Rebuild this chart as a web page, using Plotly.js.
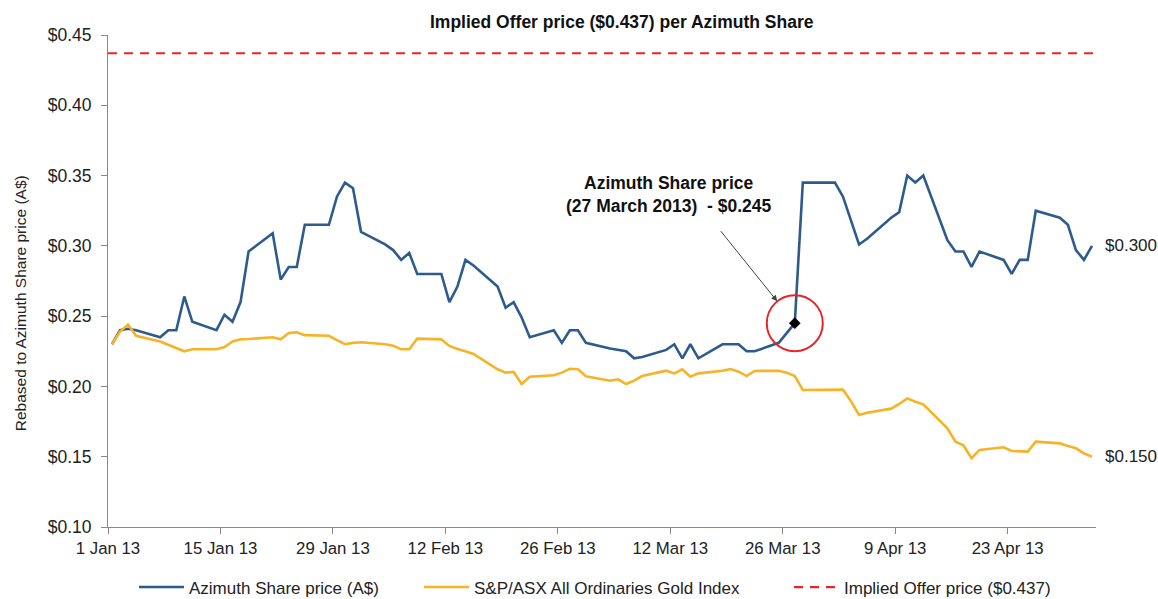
<!DOCTYPE html>
<html>
<head>
<meta charset="utf-8">
<script src="https://cdn.plot.ly/plotly-3.0.1.min.js"></script>
<style>html,body{margin:0;padding:0;background:#fff;}#chart{width:1158px;height:599px;}</style>
</head>
<body>
<div id="chart"></div>
<script>
// ---- data ----
const dates = [
 '2013-01-01','2013-01-02','2013-01-03','2013-01-04',
 '2013-01-07','2013-01-08','2013-01-09','2013-01-10','2013-01-11',
 '2013-01-14','2013-01-15','2013-01-16','2013-01-17','2013-01-18',
 '2013-01-21','2013-01-22','2013-01-23','2013-01-24','2013-01-25',
 '2013-01-28','2013-01-29','2013-01-30','2013-01-31','2013-02-01',
 '2013-02-04','2013-02-05','2013-02-06','2013-02-07','2013-02-08',
 '2013-02-11','2013-02-12','2013-02-13','2013-02-14','2013-02-15',
 '2013-02-18','2013-02-19','2013-02-20','2013-02-21','2013-02-22',
 '2013-02-25','2013-02-26','2013-02-27','2013-02-28','2013-03-01',
 '2013-03-04','2013-03-05','2013-03-06','2013-03-07','2013-03-08',
 '2013-03-11','2013-03-12','2013-03-13','2013-03-14','2013-03-15',
 '2013-03-18','2013-03-19','2013-03-20','2013-03-21','2013-03-22',
 '2013-03-25','2013-03-26','2013-03-27','2013-03-28','2013-03-29',
 '2013-04-01','2013-04-02','2013-04-03','2013-04-04','2013-04-05',
 '2013-04-08','2013-04-09','2013-04-10','2013-04-11','2013-04-12',
 '2013-04-15','2013-04-16','2013-04-17','2013-04-18','2013-04-19',
 '2013-04-22','2013-04-23','2013-04-24','2013-04-25','2013-04-26',
 '2013-04-29','2013-04-30','2013-05-01','2013-05-02','2013-05-03'
];
const azimuthPrice = [
 0.230,0.240,0.241,0.240,
 0.235,0.240,0.240,0.264,0.246,
 0.240,0.251,0.246,0.260,0.296,
 0.309,0.276,0.285,0.285,0.315,
 0.315,0.335,0.345,0.341,0.310,
 0.301,0.297,0.290,0.295,0.280,
 0.280,0.260,0.271,0.290,0.286,
 0.271,0.256,0.260,0.249,0.235,
 0.240,0.231,0.240,0.240,0.231,
 0.227,0.226,0.225,0.220,0.221,
 0.226,0.230,0.220,0.230,0.220,
 0.230,0.230,0.230,0.225,0.225,
 0.231,0.238,0.245,0.345,0.345,
 0.345,0.335,0.318,0.301,0.305,
 0.320,0.324,0.350,0.345,0.350,
 0.304,0.296,0.296,0.285,0.296,
 0.290,0.280,0.290,0.290,0.325,
 0.320,0.315,0.297,0.290,0.300
];
const goldIndex = [
 0.230,0.239,0.244,0.236,
 0.232,0.2295,0.227,0.225,0.2265,
 0.2265,0.228,0.232,0.2335,0.2337,
 0.235,0.2335,0.238,0.2385,0.2365,
 0.236,0.233,0.230,0.231,0.2314,
 0.230,0.229,0.2264,0.2264,0.234,
 0.2335,0.2288,0.2266,0.225,0.2231,
 0.2122,0.2098,0.2103,0.2017,0.2069,
 0.2079,0.2098,0.2126,0.2122,0.2072,
 0.2041,0.2051,0.2017,0.2041,0.2074,
 0.2112,0.2093,0.2122,0.2069,0.2093,
 0.2112,0.2124,0.2105,0.2074,0.2110,
 0.2112,0.2098,0.2074,0.1975,0.1975,
 0.1975,0.1977,0.1894,0.1797,0.1813,
 0.1842,0.1875,0.1915,0.1891,0.1873,
 0.1702,0.1607,0.1581,0.1489,0.1548,
 0.1567,0.1541,0.1538,0.1536,0.1607,
 0.1595,0.1576,0.1560,0.1524,0.150
];
const offerPrice = 0.437;
const highlightDate = '2013-03-27';
const xTickVals = ['2013-01-01','2013-01-15','2013-01-29','2013-02-12','2013-02-26','2013-03-12','2013-03-26','2013-04-09','2013-04-23'];
const xRange = ['2013-01-01','2013-05-04'];
const seriesNames = ['Azimuth Share price (A$)','S&P/ASX All Ordinaries Gold Index','Implied Offer price ($0.437)'];

// ---- styling ----
const FONT = 'Liberation Sans, Arial, sans-serif';
const BLUE = '#2e5b8e', YELLOW = '#f6b326', RED = '#e8262a';
const DAY = 86400000;
const hi = dates.indexOf(highlightDate);
const lastIdx = dates.length - 1;

const traces = [
  {x: dates, y: azimuthPrice, type:'scatter', mode:'lines', name: seriesNames[0], legend:'legend',
   line:{color:BLUE, width:2.6}, xperiod: DAY, xperiodalignment:'middle'},
  {x: dates, y: goldIndex, type:'scatter', mode:'lines', name: seriesNames[1], legend:'legend2',
   line:{color:YELLOW, width:2.6}, xperiod: DAY, xperiodalignment:'middle'},
  {x: xRange, y: [offerPrice, offerPrice], type:'scatter', mode:'lines', name: seriesNames[2], legend:'legend3',
   line:{color:RED, width:2.2, dash:'9px,7px'}},
  {x: [dates[hi]], y: [azimuthPrice[hi]], type:'scatter', mode:'markers', showlegend:false,
   marker:{symbol:'diamond', size:9, color:'#000'}, xperiod: DAY, xperiodalignment:'middle'}
];

function leg(xpx) {
  return {orientation:'h', x:(xpx - 108) / 988, xanchor:'left', y:-0.123, yanchor:'middle',
          font:{family:FONT, size:17, color:'#222'}, itemwidth:45, bgcolor:'rgba(0,0,0,0)', borderwidth:0};
}

const layout = {
  width:1158, height:599,
  margin:{l:108, r:62, t:35, b:72, autoexpand:false},
  paper_bgcolor:'#fff', plot_bgcolor:'#fff',
  font:{family:FONT, size:17, color:'#222'},
  showlegend:true,
  legend: leg(134),
  legend2: leg(419),
  legend3: leg(789),
  xaxis:{type:'date', range:xRange, tickvals:xTickVals, tickformat:'%-d %b %y',
         ticks:'outside', ticklen:6, tickcolor:'#888', showline:true, linecolor:'#888', linewidth:1,
         showgrid:false, zeroline:false, tickfont:{family:FONT, size:16.8, color:'#222'}},
  yaxis:{range:[0.10,0.45], dtick:0.05, tick0:0.10, tickformat:'$.2f',
         ticks:'outside', ticklen:6, tickcolor:'#888', showline:true, linecolor:'#888', linewidth:1,
         ticklabelstandoff:6,
         showgrid:false, zeroline:false, tickfont:{family:FONT, size:17.5, color:'#222'}},
  shapes:[
    {type:'circle', xref:'x', yref:'y', xsizemode:'pixel', ysizemode:'pixel',
     xanchor: dates[hi] + ' 12:00', yanchor: azimuthPrice[hi],
     x0:-28, x1:28, y0:-28, y1:28, line:{color:RED, width:2}}
  ],
  annotations:[
    {text:'<b>Implied Offer price ($0.437) per Azimuth Share</b>', xref:'paper', yref:'paper',
     x:0.52, y:1.026, xanchor:'center', yanchor:'middle', showarrow:false,
     font:{family:FONT, size:17.5, color:'#111'}},
    {text:'Rebased to Azimuth Share price (A$)', xref:'paper', yref:'paper',
     x:-0.089, y:0.455, textangle:-90, xanchor:'center', yanchor:'middle', showarrow:false,
     font:{family:FONT, size:15.5, color:'#222'}},
    {text:'<b>Azimuth Share price<br>(27 March 2013)  - $' + azimuthPrice[hi].toFixed(3) + '</b>',
     xref:'paper', yref:'paper', x:0.568, y:0.675, xanchor:'center', yanchor:'middle', showarrow:false,
     font:{family:FONT, size:17.5, color:'#111'}},
    {text:' ', xref:'x', yref:'y', x: dates[hi] + ' 12:00', y: azimuthPrice[hi],
     showarrow:true, ax:-78, ay:-97, axref:'pixel', ayref:'pixel', standoff:28,
     arrowhead:2, arrowsize:1.2, arrowwidth:1, arrowcolor:'#444'},
    {text:'$' + azimuthPrice[lastIdx].toFixed(3), xref:'x', yref:'y', x: dates[lastIdx], y: azimuthPrice[lastIdx],
     xanchor:'left', yanchor:'middle', xshift:15, showarrow:false, font:{family:FONT, size:17, color:'#222'}},
    {text:'$' + goldIndex[lastIdx].toFixed(3), xref:'x', yref:'y', x: dates[lastIdx], y: goldIndex[lastIdx],
     xanchor:'left', yanchor:'middle', xshift:15, showarrow:false, font:{family:FONT, size:17, color:'#222'}}
  ]
};

Plotly.newPlot('chart', traces, layout, {displayModeBar:false, staticPlot:true});
</script>
</body>
</html>
